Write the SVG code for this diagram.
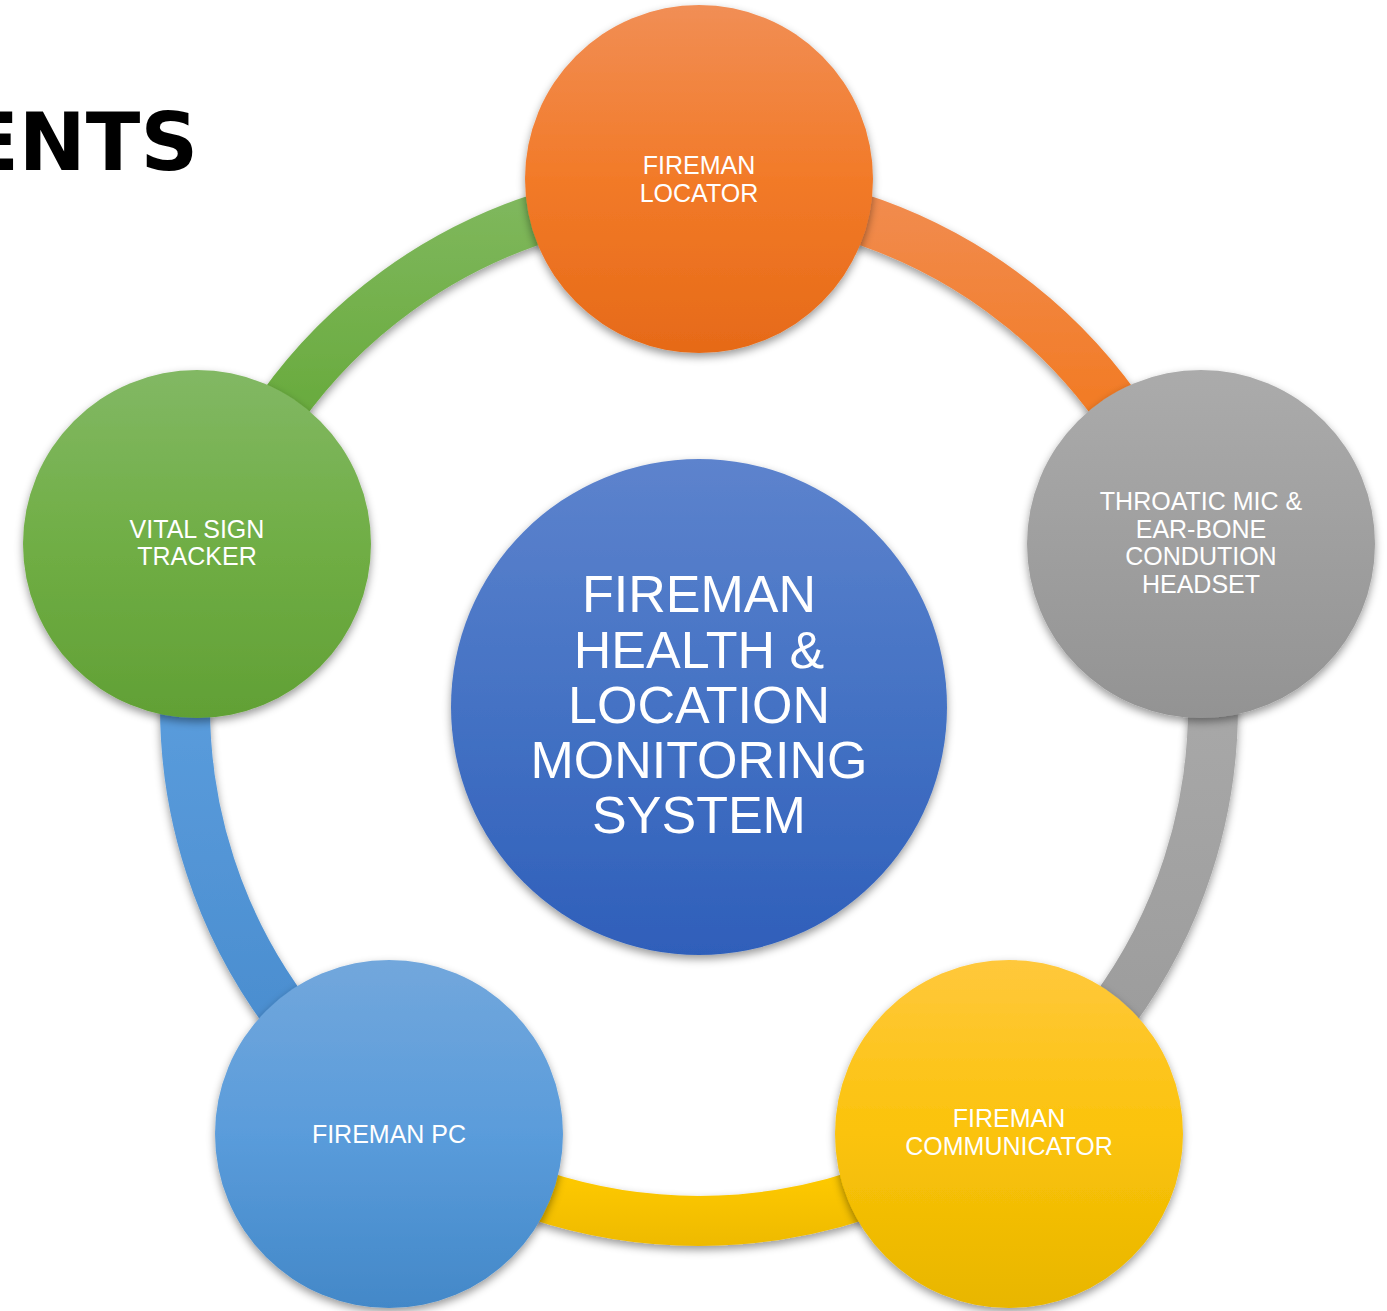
<svg xmlns="http://www.w3.org/2000/svg" width="1387" height="1311" viewBox="0 0 1387 1311">
<style>
.lbl{font-family:"Liberation Sans",Arial,sans-serif;font-size:25px;fill:#fff;text-anchor:middle}
.big{font-family:"Liberation Sans",Arial,sans-serif;font-size:52px;fill:#fff;text-anchor:middle}
.arc{fill:none;stroke-width:50;filter:url(#sh)}
.node{filter:url(#sh)}
</style>
<defs>
<filter id="sh" filterUnits="userSpaceOnUse" x="-50" y="-50" width="1487" height="1411">
<feDropShadow dx="0" dy="4" stdDeviation="4" flood-color="#000" flood-opacity="0.4"/>
</filter>
<linearGradient id="gOr" x1="0" y1="0" x2="0" y2="1"><stop offset="0" stop-color="#F18E55"/><stop offset="0.5" stop-color="#F27A28"/><stop offset="1" stop-color="#E66A18"/></linearGradient>
<linearGradient id="gGy" x1="0" y1="0" x2="0" y2="1"><stop offset="0" stop-color="#ABABAB"/><stop offset="1" stop-color="#939393"/></linearGradient>
<linearGradient id="gYe" x1="0" y1="0" x2="0" y2="1"><stop offset="0" stop-color="#FFC83C"/><stop offset="0.5" stop-color="#FBC30A"/><stop offset="1" stop-color="#E8B600"/></linearGradient>
<linearGradient id="gBl" x1="0" y1="0" x2="0" y2="1"><stop offset="0" stop-color="#72A7DC"/><stop offset="0.5" stop-color="#5A9CDB"/><stop offset="1" stop-color="#4388C8"/></linearGradient>
<linearGradient id="gGr" x1="0" y1="0" x2="0" y2="1"><stop offset="0" stop-color="#82B864"/><stop offset="0.5" stop-color="#70AE45"/><stop offset="1" stop-color="#61A035"/></linearGradient>
<linearGradient id="gCe" x1="0" y1="0" x2="0" y2="1"><stop offset="0" stop-color="#5D83CD"/><stop offset="0.5" stop-color="#4472C4"/><stop offset="1" stop-color="#2F5FBA"/></linearGradient>
<linearGradient id="aOr" gradientUnits="userSpaceOnUse" x1="0" y1="190" x2="0" y2="420"><stop offset="0" stop-color="#F18C50"/><stop offset="1" stop-color="#F27A22"/></linearGradient>
<linearGradient id="aGy" gradientUnits="userSpaceOnUse" x1="0" y1="700" x2="0" y2="1040"><stop offset="0" stop-color="#A8A8A8"/><stop offset="1" stop-color="#9C9C9C"/></linearGradient>
<linearGradient id="aYe" gradientUnits="userSpaceOnUse" x1="0" y1="1180" x2="0" y2="1250"><stop offset="0" stop-color="#FDC800"/><stop offset="1" stop-color="#EDB900"/></linearGradient>
<linearGradient id="aBl" gradientUnits="userSpaceOnUse" x1="0" y1="700" x2="0" y2="1040"><stop offset="0" stop-color="#5A9CDC"/><stop offset="1" stop-color="#4A8DCF"/></linearGradient>
<linearGradient id="aGr" gradientUnits="userSpaceOnUse" x1="0" y1="190" x2="0" y2="420"><stop offset="0" stop-color="#80B85E"/><stop offset="1" stop-color="#68AA3C"/></linearGradient>
</defs>
<rect width="1387" height="1311" fill="#fff"/>
<text x="198" y="170" font-family="DejaVu Sans,sans-serif" font-weight="bold" font-size="80" text-anchor="end" fill="#000">ENTS</text>
<g id="connectors">
<path class="arc" stroke="url(#aOr)" d="M 699 193 A 514 514 0 0 1 1187.84 548.17"/>
<path class="arc" stroke="url(#aGy)" d="M 1187.84 548.17 A 514 514 0 0 1 1001.12 1122.83"/>
<path class="arc" stroke="url(#aYe)" d="M 1001.12 1122.83 A 514 514 0 0 1 396.88 1122.83"/>
<path class="arc" stroke="url(#aBl)" d="M 396.88 1122.83 A 514 514 0 0 1 210.16 548.17"/>
<path class="arc" stroke="url(#aGr)" d="M 210.16 548.17 A 514 514 0 0 1 699 193"/>
</g>
<g id="center">
<circle class="node" cx="699" cy="707" r="248" fill="url(#gCe)"/>
<text class="big" x="699" y="612">FIREMAN</text>
<text class="big" x="699" y="668">HEALTH &amp;</text>
<text class="big" x="699" y="723">LOCATION</text>
<text class="big" x="699" y="778">MONITORING</text>
<text class="big" x="699" y="833">SYSTEM</text>
</g>
<g id="locator">
<circle class="node" cx="699" cy="179" r="174" fill="url(#gOr)"/>
<text class="lbl" x="699" y="174">FIREMAN</text>
<text class="lbl" x="699" y="202">LOCATOR</text>
</g>
<g id="headset">
<circle class="node" cx="1201" cy="544" r="174" fill="url(#gGy)"/>
<text class="lbl" x="1201" y="510">THROATIC MIC &amp;</text>
<text class="lbl" x="1201" y="538">EAR-BONE</text>
<text class="lbl" x="1201" y="565">CONDUTION</text>
<text class="lbl" x="1201" y="593">HEADSET</text>
</g>
<g id="communicator">
<circle class="node" cx="1009" cy="1134" r="174" fill="url(#gYe)"/>
<text class="lbl" x="1009" y="1127">FIREMAN</text>
<text class="lbl" x="1009" y="1155">COMMUNICATOR</text>
</g>
<g id="pc">
<circle class="node" cx="389" cy="1134" r="174" fill="url(#gBl)"/>
<text class="lbl" x="389" y="1143">FIREMAN PC</text>
</g>
<g id="tracker">
<circle class="node" cx="197" cy="544" r="174" fill="url(#gGr)"/>
<text class="lbl" x="197" y="538">VITAL SIGN</text>
<text class="lbl" x="197" y="565">TRACKER</text>
</g>
</svg>
